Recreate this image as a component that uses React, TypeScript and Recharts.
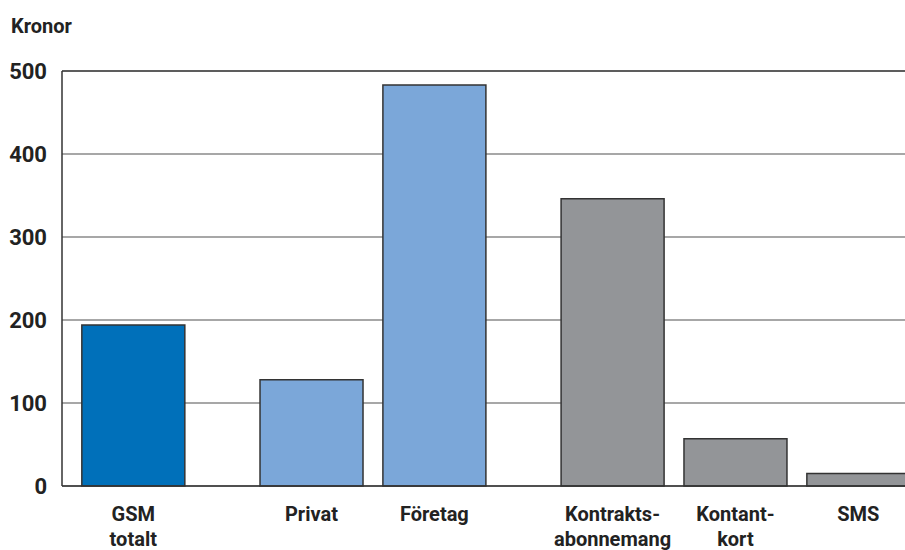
import { BarChart, Bar, XAxis, YAxis, CartesianGrid, ReferenceLine, Cell } from "recharts"

const categories = ["GSM\ntotalt", "Privat", "Företag", "Kontrakts-\nabonnemang", "Kontant-\nkort", "SMS"]
const values = [194, 128, 483, 346, 57, 15]
// which group each bar belongs to (0 = total, 1 = kundtyp, 2 = abonnemangstyp)
const groupOf = [0, 1, 1, 2, 2, 2]
const yTicks = [0, 100, 200, 300, 400, 500]

const groupColors = ["#0070ba", "#7ba7d9", "#939598"]
const FONT = "Roboto, 'Liberation Sans', sans-serif"
const GROUP_GAP = 0.45

const data = categories.map((name, i) => ({
  name,
  pos: i + groupOf[i] * GROUP_GAP,
  value: values[i],
  group: groupOf[i],
}))

const XTick = (props: any) => {
  const { x, y, payload } = props
  const item = data.find((d) => Math.abs(d.pos - payload.value) < 1e-6)
  const lines = item ? item.name.split("\n") : []
  return (
    <text x={x} y={y + 27} textAnchor="middle" fontFamily={FONT} fontWeight="bold" fontSize={20} fill="#222">
      {lines.map((l, i) => (
        <tspan key={i} x={x} dy={i === 0 ? 0 : 25}>
          {l}
        </tspan>
      ))}
    </text>
  )
}

const YTick = (props: any) => {
  const { y, payload } = props
  return (
    <text x={47} y={y + 8} textAnchor="end" fontFamily={FONT} fontWeight="bold" fontSize={22} fill="#222">
      {payload.value}
    </text>
  )
}

export default function App() {
  return (
    <div style={{ position: "absolute", left: 0, top: 0, width: 905, height: 550, background: "#fff" }}>
      <div style={{ position: "absolute", left: 11, top: 14, fontFamily: FONT, fontWeight: "bold", fontSize: 20, color: "#222" }}>
        Kronor
      </div>
      <BarChart width={905} height={550} data={data} margin={{ top: 71, right: 0, left: 0, bottom: 0 }}>
        <CartesianGrid vertical={false} stroke="#8a8a8a" strokeWidth={1.5} />
        <XAxis
          type="number"
          dataKey="pos"
          domain={[-0.58, 6.28]}
          ticks={data.map((d) => d.pos)}
          tick={<XTick />}
          tickLine={false}
          axisLine={{ stroke: "#333", strokeWidth: 1.5 }}
          height={64}
          interval={0}
          allowDataOverflow
        />
        <YAxis
          domain={[0, 500]}
          ticks={yTicks}
          tick={<YTick />}
          tickLine={false}
          axisLine={{ stroke: "#333", strokeWidth: 1.5 }}
          width={62}
          interval={0}
        />
        <ReferenceLine y={500} stroke="#444" strokeWidth={1.5} />
        <Bar dataKey="value" barSize={103} stroke="#333" strokeWidth={1.5} isAnimationActive={false}>
          {data.map((d, i) => (
            <Cell key={i} fill={groupColors[d.group]} />
          ))}
        </Bar>
      </BarChart>
    </div>
  )
}
